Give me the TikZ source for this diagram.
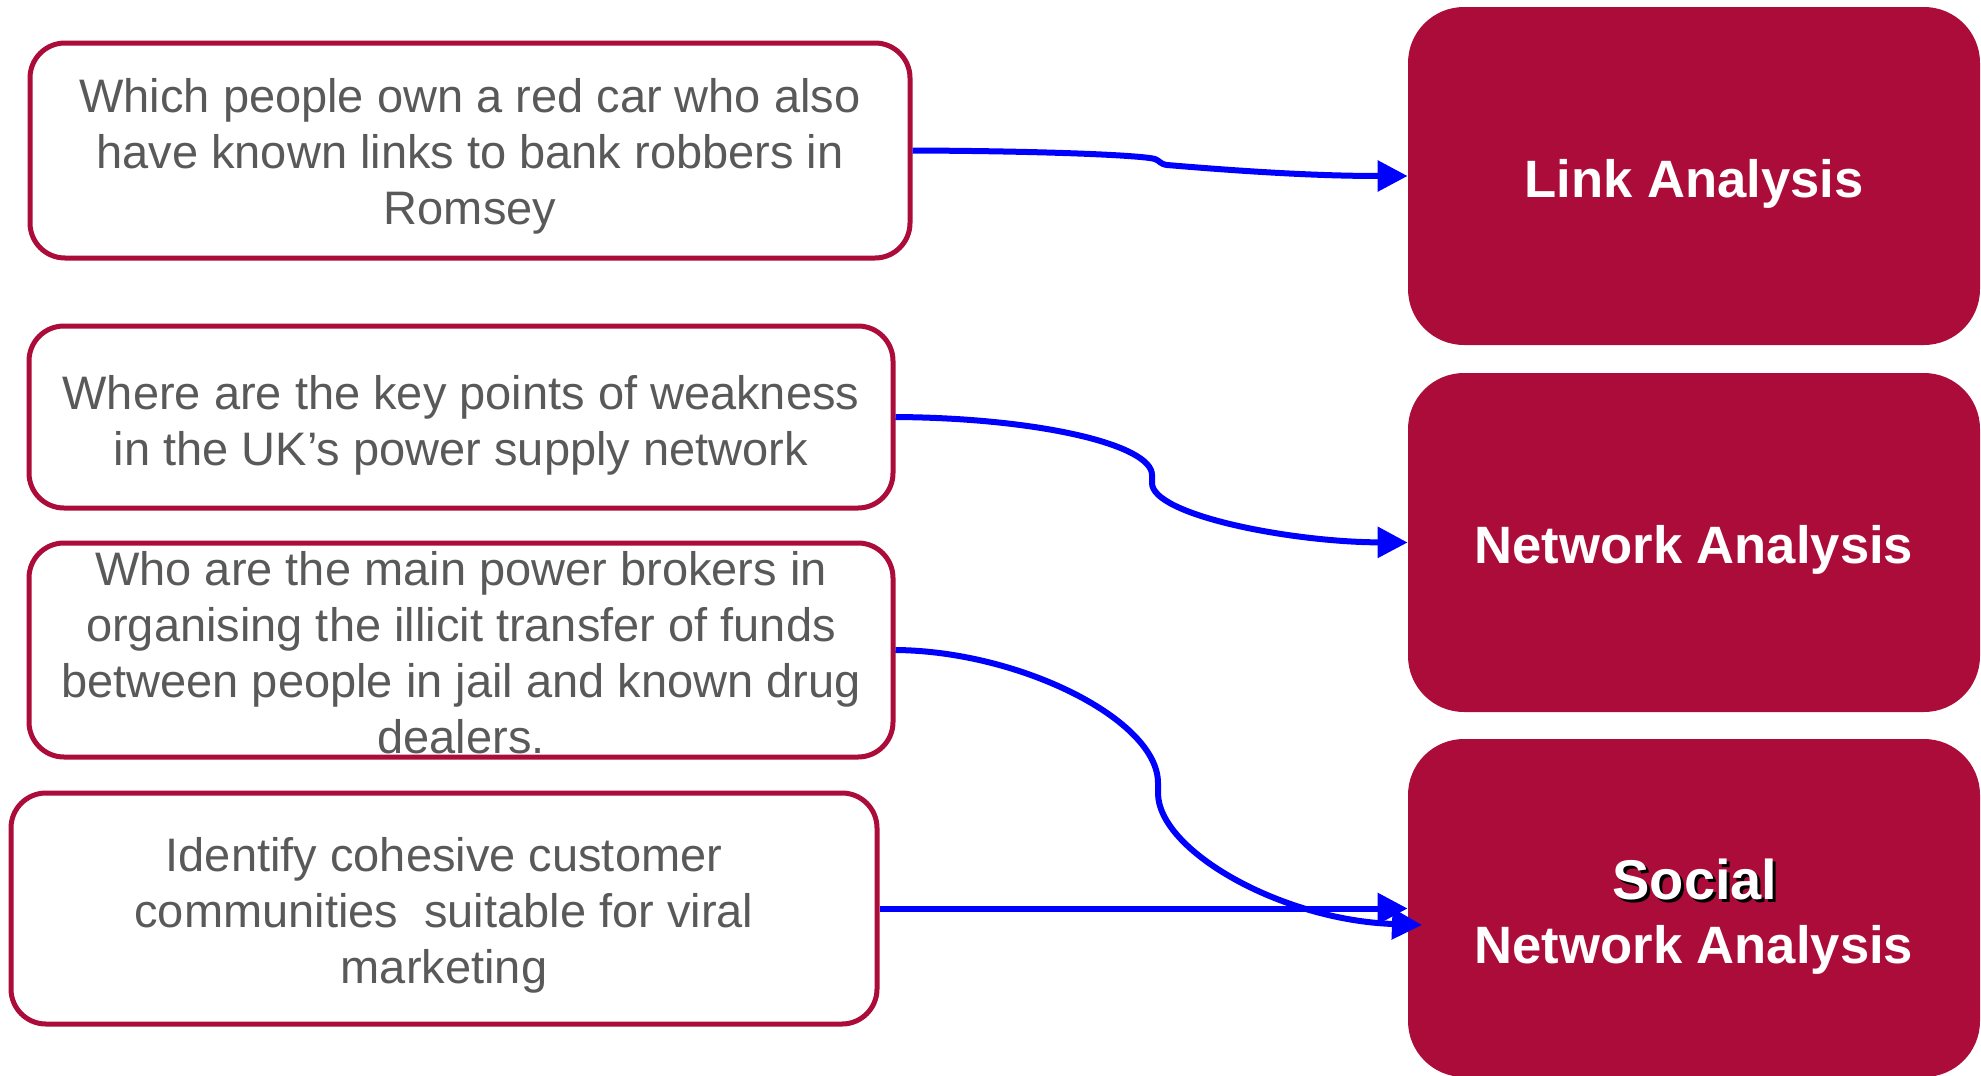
\documentclass[tikz,border=0pt]{standalone}
\usepackage{fontspec}
\setmainfont{Liberation Sans}
\usetikzlibrary{arrows.meta}
\definecolor{crim}{HTML}{AC0C39}
\definecolor{txtgrey}{HTML}{595959}
\definecolor{arrblue}{HTML}{0000FF}
\begin{document}
\begin{tikzpicture}[x=0.5pt,y=-0.5pt,
  qbox/.style={draw=crim, line width=2.5pt, rounded corners=17.5pt, fill=white, inner sep=0pt},
  abox/.style={fill=crim, rounded corners=28pt, inner sep=0pt},
  qtext/.style={align=center, text=txtgrey, font=\fontsize{23.5pt}{28pt}\selectfont, inner sep=0pt},
  atext/.style={anchor=base, text=white, font=\bfseries\fontsize{26.3pt}{32pt}\selectfont, inner sep=0pt},
  stext/.style={anchor=base, font=\bfseries\fontsize{28pt}{32pt}\selectfont, inner sep=0pt},
  conn/.style={draw=arrblue, line width=3pt, -{Triangle[length=15pt,width=15pt]}}
]
\useasboundingbox (0,0) rectangle (1981,1076);

% question boxes
\node[qbox, minimum width=440pt, minimum height=107.5pt] (q1) at (470,150.5) {};
\node[qbox, minimum width=432pt, minimum height=91pt] (q2) at (461,417) {};
\node[qbox, minimum width=432pt, minimum height=107pt] (q3) at (461,650) {};
\node[qbox, minimum width=433pt, minimum height=115.5pt] (q4) at (444,908.5) {};

% analysis boxes
\node[abox, minimum width=286pt, minimum height=169pt] (rA) at (1694,176) {};
\node[abox, minimum width=286pt, minimum height=169.5pt] (rB) at (1694,542.5) {};
\node[abox, minimum width=286pt, minimum height=169pt] (rC) at (1694,908) {};

% question texts
\node[qtext] (t1) at (470,156) {Which people own a red car who also\\have known links to bank robbers in\\Romsey};
\node[qtext] (t2) at (461,425) {Where are the key points of weakness\\in the UK’s power supply network};
\node[qtext] (t3) at (461,653) {Who are the main power brokers in\\organising the illicit transfer of funds\\between people in jail and known drug\\dealers.};
\node[qtext] (t4) at (444,915) {Identify cohesive customer\\communities\ \ suitable for viral\\marketing};

% analysis texts
\node[atext] (la) at (1694,197) {Link Analysis};
\node[atext] (na) at (1694,563) {Network Analysis};
\node[stext, text=black] (socsh) at (1698,902) {Social};
\node[stext, text=white] (soc) at (1695,899) {Social};
\node[atext] (sna) at (1694,963) {Network Analysis};

% connectors
\draw[conn] (q1.east) .. controls (1040,151) and (1140,155) .. (1155,159)
  .. controls (1160,161) and (1160,164) .. (1167,165)
  .. controls (1250,172) and (1320,176) .. (rA.west);
\draw[conn] (q2.east) .. controls (1040,418) and (1152,445) .. (1152,475)
  -- (1152,483) .. controls (1152,515) and (1290,542) .. (rB.west);
\coordinate (c3end) at (1422,925);
\draw[conn] (q3.east) .. controls (1020,651) and (1158,720) .. (1158,783)
  -- (1158,793) .. controls (1158,850) and (1280,920) .. (c3end);
\draw[conn] (q4.east) -- (q4.east -| rC.west);
\end{tikzpicture}
\end{document}
